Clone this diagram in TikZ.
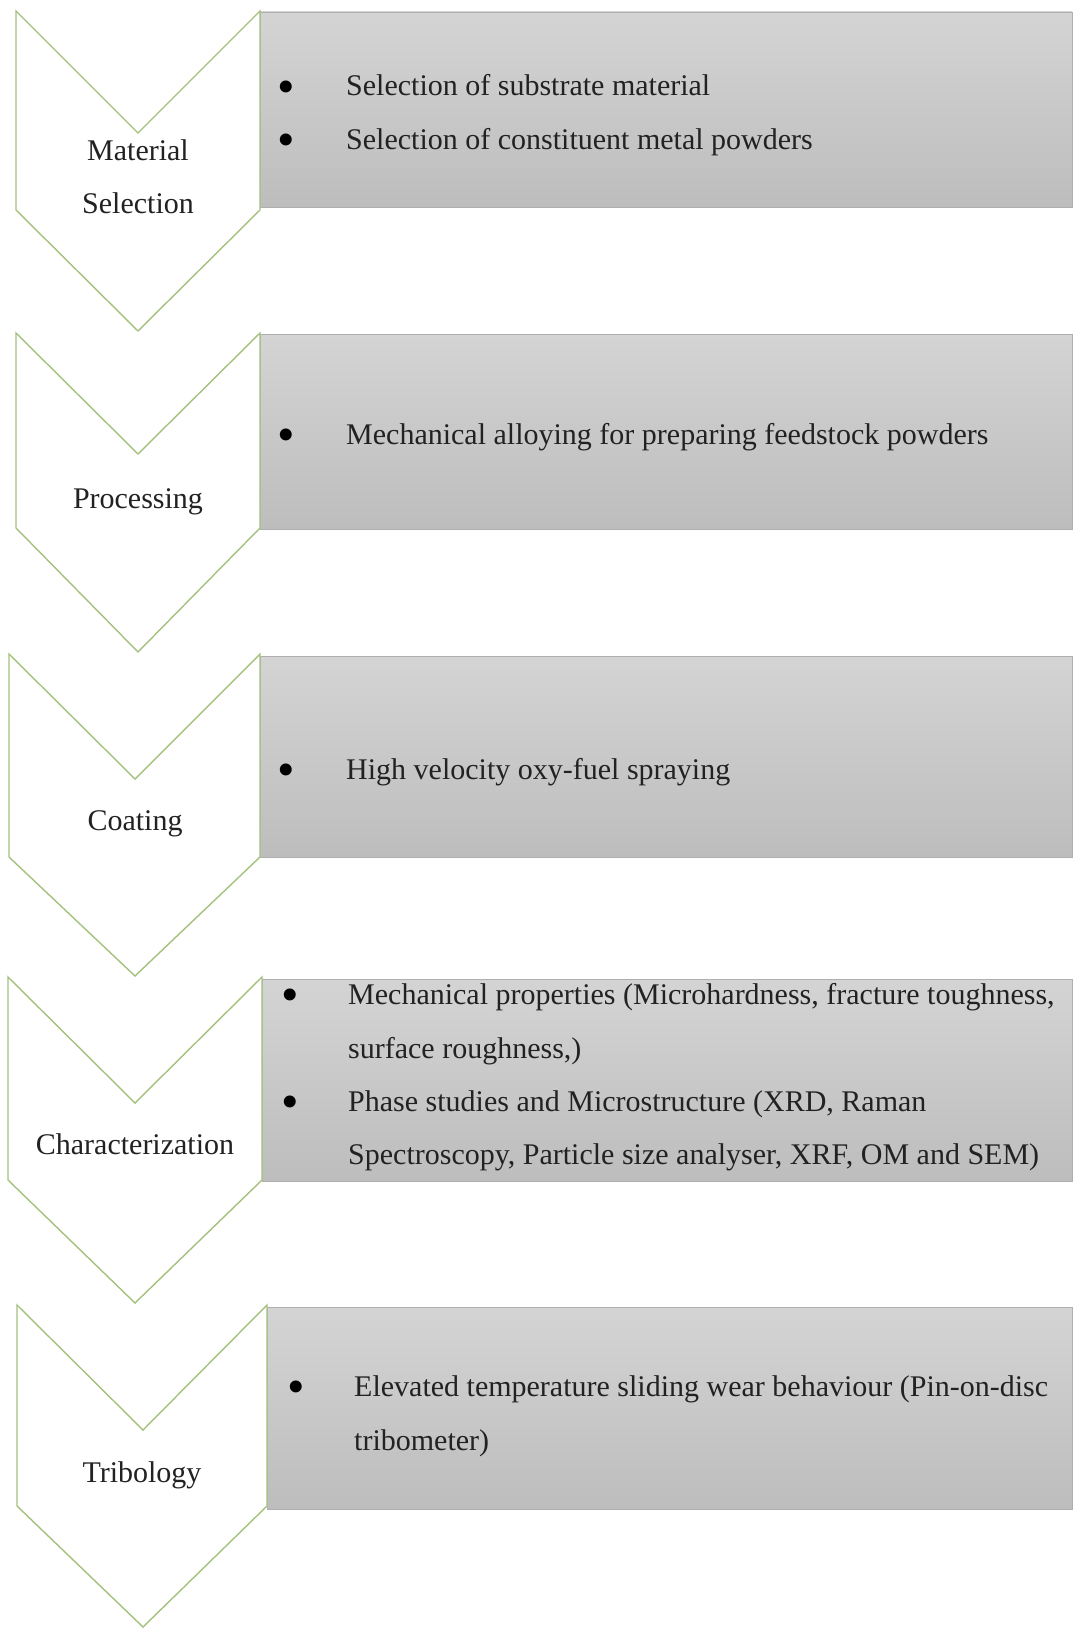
\documentclass[tikz,border=0pt]{standalone}
\usepackage{fontspec}
\setmainfont{Liberation Serif}
\definecolor{chev}{HTML}{A4C17E}
\definecolor{boxtop}{HTML}{D4D4D4}
\definecolor{boxbot}{HTML}{BDBDBD}
\definecolor{boxline}{HTML}{AFAFAF}
\definecolor{txt}{HTML}{222222}
\tikzset{
  chevron/.style={draw=chev, line width=1.4pt, fill=white, line join=miter},
  panel/.style={draw=boxline, line width=0.8pt, top color=boxtop, bottom color=boxbot, anchor=north west, inner sep=0pt, outer sep=0pt},
  lbl/.style={font=\fontsize{30}{36}\selectfont, text=txt, inner sep=0pt, anchor=base},
  itemtxt/.style={font=\fontsize{30}{36}\selectfont, text=txt, inner sep=0pt, anchor=base west},
  bul/.style={font=\fontsize{50}{50}\selectfont, text=black, inner sep=0pt, anchor=center}
}
\begin{document}
\begin{tikzpicture}[x=1pt, y=-1pt]
\useasboundingbox (0,0) rectangle (1072,1629);
% ---------- panels ----------
\node[panel, minimum width=812pt, minimum height=195pt] (p1) at (260,12) {};
\node[panel, minimum width=812pt, minimum height=195pt] (p2) at (260,334) {};
\node[panel, minimum width=812pt, minimum height=201pt] (p3) at (260,656) {};
\node[panel, minimum width=810pt, minimum height=202pt] (p4) at (262,979) {};
\node[panel, minimum width=805pt, minimum height=202pt] (p5) at (267,1307) {};
% ---------- chevrons ----------
\draw[chevron] (16,11) -- (138,133) -- (260,11) -- (260,210) -- (138,331) -- (16,210) -- cycle;
\draw[chevron] (16,333) -- (138,454) -- (260,333) -- (260,528) -- (138,652) -- (16,528) -- cycle;
\draw[chevron] (9,654) -- (135,779) -- (260,654) -- (260,857) -- (135,976) -- (9,857) -- cycle;
\draw[chevron] (8,977) -- (135,1103) -- (262,977) -- (262,1180) -- (135,1303) -- (8,1180) -- cycle;
\draw[chevron] (17,1305) -- (143,1430) -- (267,1305) -- (267,1506) -- (143,1627) -- (17,1506) -- cycle;
% ---------- chevron labels ----------
\node[lbl] (l1a) at (138,161) {Material};
\node[lbl] (l1b) at (138,214) {Selection};
\node[lbl] (l2) at (138,508) {Processing};
\node[lbl] (l3) at (135,830) {Coating};
\node[lbl] (l4) at (135,1154) {Characterization};
\node[lbl] (l5) at (142,1482) {Tribology};
% ---------- panel 1 ----------
\node[bul] (b11) at (286,92) {•};
\node[itemtxt] (t11) at (346,96) {Selection of substrate material};
\node[bul] (b12) at (286,145) {•};
\node[itemtxt] (t12) at (346,150) {Selection of constituent metal powders};
% ---------- panel 2 ----------
\node[bul] (b21) at (286,440) {•};
\node[itemtxt] (t21) at (346,444) {Mechanical alloying for preparing feedstock powders};
% ---------- panel 3 ----------
\node[bul] (b31) at (286,775) {•};
\node[itemtxt] (t31) at (346,779) {High velocity oxy-fuel spraying};
% ---------- panel 4 ----------
\node[bul] (b41) at (290,1000) {•};
\node[itemtxt] (t41a) at (348,1004) {Mechanical properties (Microhardness, fracture toughness,};
\node[itemtxt] (t41b) at (348,1058) {surface roughness,)};
\node[bul] (b42) at (290,1107) {•};
\node[itemtxt] (t42a) at (348,1111) {Phase studies and Microstructure (XRD, Raman};
\node[itemtxt] (t42b) at (348,1164) {Spectroscopy, Particle size analyser, XRF, OM and SEM)};
% ---------- panel 5 ----------
\node[bul] (b51) at (296,1392) {•};
\node[itemtxt] (t51a) at (354,1396) {Elevated temperature sliding wear behaviour (Pin-on-disc};
\node[itemtxt] (t51b) at (354,1450) {tribometer)};
\end{tikzpicture}
\end{document}
